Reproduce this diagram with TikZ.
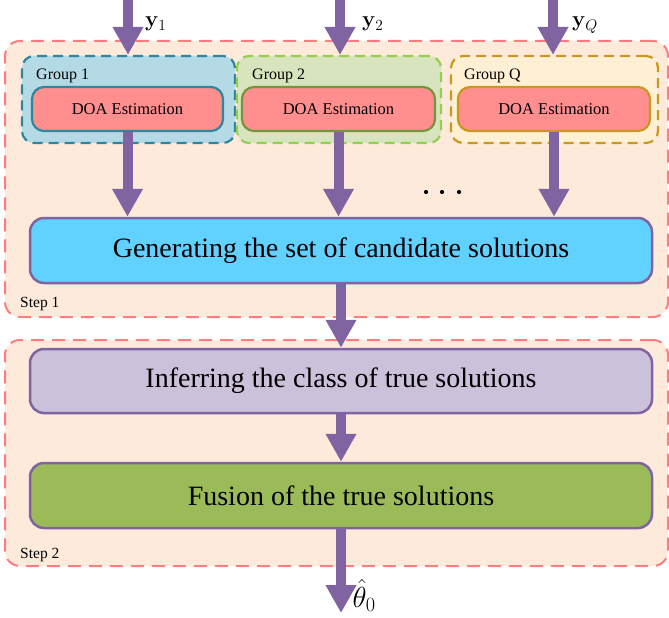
\RequirePackage{fix-cm}
\documentclass[tikz,border=0pt]{standalone}
\usepackage[no-math]{fontspec}
\setmainfont{Liberation Serif}
\usetikzlibrary{arrows.meta}
\definecolor{stepfill}{HTML}{FDEADA}
\definecolor{stepline}{HTML}{FF7C80}
\definecolor{gonefill}{HTML}{B4DBE5}
\definecolor{goneline}{HTML}{31859C}
\definecolor{gtwofill}{HTML}{D7E4BD}
\definecolor{gtwoline}{HTML}{92D050}
\definecolor{gqfill}{HTML}{FFF0D5}
\definecolor{gqline}{HTML}{C9981C}
\definecolor{doafill}{HTML}{FF8F8F}
\definecolor{dtwoline}{HTML}{77933C}
\definecolor{purp}{HTML}{8064A2}
\definecolor{genfill}{HTML}{61D1FF}
\definecolor{inffill}{HTML}{CCC1DA}
\definecolor{fusfill}{HTML}{9BBB59}
\tikzset{
  stepbox/.style={draw=stepline, fill=stepfill, line width=2pt, dash pattern=on 13pt off 8pt, rounded corners=15pt, inner sep=0pt},
  groupbox/.style={line width=2.2pt, dash pattern=on 10pt off 6pt, rounded corners=12pt, inner sep=0pt, minimum height=87pt},
  doabox/.style={fill=doafill, line width=2.2pt, rounded corners=12pt, inner sep=0pt, minimum height=44pt, font=\fontsize{16.5}{19}\selectfont},
  mainbox/.style={draw=purp, line width=2.5pt, rounded corners=14pt, inner sep=0pt, minimum width=622pt, font=\fontsize{28}{32}\selectfont},
  grouplabel/.style={anchor=base west, inner sep=0pt, font=\fontsize{16}{19}\selectfont},
  steplabel/.style={anchor=base west, inner sep=0pt, font=\fontsize{15.5}{18}\selectfont},
  biglabel/.style={anchor=base west, inner sep=0pt, font=\fontsize{22}{26}\selectfont},
  bigarrow/.style={draw=purp, line width=10pt, -{Triangle[width=29pt,length=28pt]}, fill=purp},
}
\begin{document}
\begin{tikzpicture}[x=1pt,y=-1pt]
\useasboundingbox (0,0) rectangle (669,618);
% step containers
\node[stepbox, minimum width=663pt, minimum height=276pt] (step1) at (336.5,179) {};
\node[stepbox, minimum width=663pt, minimum height=226pt] (step2) at (336.5,453) {};
\node[steplabel] (s1lab) at (20,307) {Step 1};
\node[steplabel] (s2lab) at (20,558) {Step 2};
% groups
\node[groupbox, draw=goneline, fill=gonefill, minimum width=213pt] (g1) at (128.5,99.5) {};
\node[groupbox, draw=gtwoline, fill=gtwofill, minimum width=204pt] (g2) at (339,99.5) {};
\node[groupbox, draw=gqline, fill=gqfill, minimum width=207pt] (gq) at (554.5,99.5) {};
\node[grouplabel] (g1lab) at (36,79) {Group 1};
\node[grouplabel] (g2lab) at (252,79) {Group 2};
\node[grouplabel] (gqlab) at (464,79) {Group Q};
\node[doabox, draw=goneline, minimum width=191pt] (d1) at (127.5,109) {DOA Estimation};
\node[doabox, draw=dtwoline, minimum width=193pt] (d2) at (338.5,109) {DOA Estimation};
\node[doabox, draw=gqline, minimum width=192pt] (dq) at (554,109) {DOA Estimation};
% main boxes
\node[mainbox, fill=genfill, minimum height=65pt] (gen) at (341,250.5) {Generating the set of candidate solutions};
\node[mainbox, fill=inffill, minimum height=64pt] (inf) at (341,381) {Inferring the class of true solutions};
\node[mainbox, fill=fusfill, minimum height=65pt] (fus) at (341,495.5) {Fusion of the true solutions};
% dots
\fill (426,192) circle (2.1pt) (442,192) circle (2.1pt) (459,192) circle (2.1pt);
% inputs
\coordinate (in1) at (128,0);
\coordinate (in2) at (340,0);
\coordinate (inq) at (553,0);
\draw[bigarrow] (in1) -- (in1 |- g1.north);
\draw[bigarrow] (in2) -- (in2 |- g2.north);
\draw[bigarrow] (inq) -- (inq |- gq.north);
\node[biglabel] (y1) at (145,27) {$\mathbf{y}_1$};
\node[biglabel] (y2) at (362,27) {$\mathbf{y}_2$};
\node[biglabel] (yq) at (572,27) {$\mathbf{y}_Q$};
% group to generating
\draw[bigarrow] (d1.south) -- (d1.south |- gen.north);
\draw[bigarrow] (d2.south) -- (d2.south |- gen.north);
\draw[bigarrow] (dq.south) -- (dq.south |- gen.north);
% chain
\coordinate (out) at (341,613);
\draw[bigarrow] (gen.south) -- (inf.north);
\draw[bigarrow] (inf.south) -- (fus.north);
\draw[bigarrow] (fus.south) -- (out);
\node[anchor=base west, inner sep=0pt, font=\fontsize{29}{33}\selectfont] (theta) at (352.5,607) {$\hat{\theta}_0$};
\end{tikzpicture}
\end{document}
